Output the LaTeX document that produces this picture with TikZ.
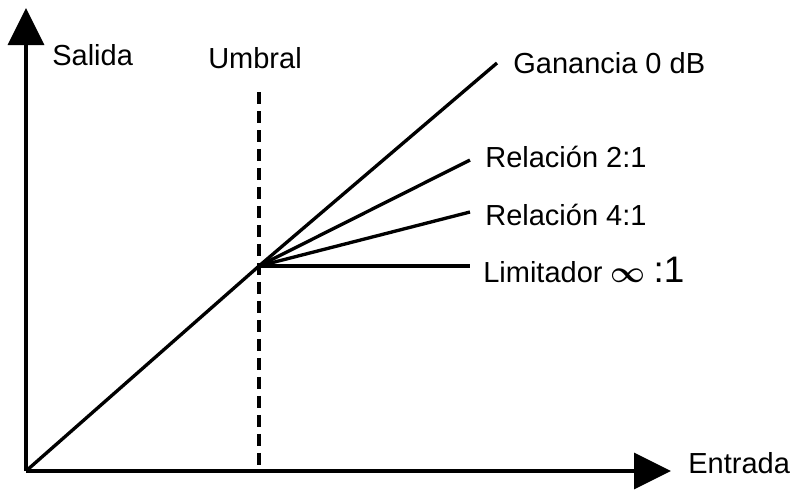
\documentclass[tikz,border=0pt]{standalone}
\usepackage{fontspec}
\setmainfont{Liberation Sans}
\usepackage{tikz}
\usetikzlibrary{arrows.meta, positioning, calc}

\begin{document}
\begin{tikzpicture}[
x=0.02cm, y=-0.02cm,
axis/.style={line width=1.9pt, -{Triangle[length=0.74cm, width=0.72cm]}},
curve/.style={line width=1.9pt},
threshold/.style={line width=1.9pt, dash pattern=on 0.24cm off 0.14cm},
lbl/.style={anchor=base west, inner sep=0pt, font=\fontsize{16.5}{19}\selectfont}
]
\useasboundingbox (0,0) rectangle (796,495);

\coordinate (origin) at (26,471);
\coordinate (ytip) at (26,8);
\coordinate (xtip) at (671,471);
\coordinate (knee) at (259,266);
\coordinate (umbraltop) at (259,92);
\coordinate (umbralbot) at (259,471);

\node[lbl] (salida) at (52,65) {Salida};
\node[lbl, anchor=base] (umbral) at (255,68) {Umbral};
\node[lbl] (entrada) at (688,473) {Entrada};
\node[lbl] (gain) at (513,73) {Ganancia 0 dB};
\node[lbl] (ratio2) at (485,167) {Relación 2:1};
\node[lbl] (ratio4) at (485,225) {Relación 4:1};
\node[lbl] (limit) at (483,282) {Limitador {\fontsize{17}{20}\selectfont\boldmath$\infty$}\hspace{0.16cm}{\fontsize{21}{24}\selectfont:1}};

% ejes
\draw[axis] (origin) -- (ytip);
\draw[axis] (origin) -- (xtip);

% umbral
\draw[threshold] (umbraltop) -- (umbralbot);

% curvas
\draw[curve] (origin) -- (knee) -- (497,63) coordinate (gainend);
\draw[curve] (knee) -- (470,160) coordinate (r2end);
\draw[curve] (knee) -- (470,212) coordinate (r4end);
\draw[curve] (knee) -- (470,266) coordinate (limend);

\end{tikzpicture}
\end{document}
